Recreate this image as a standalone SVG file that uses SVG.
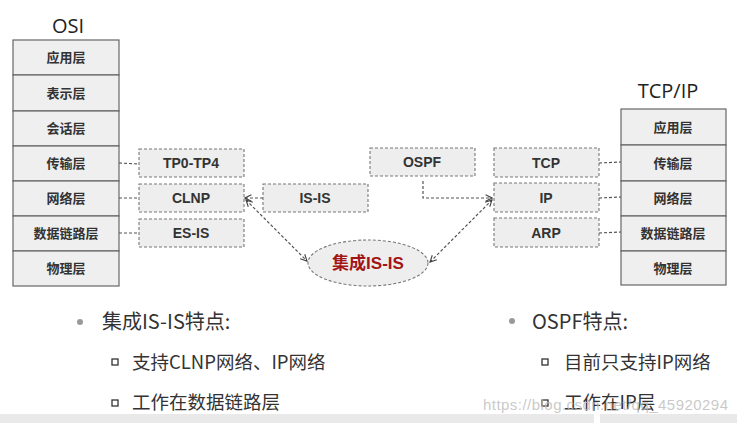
<svg xmlns="http://www.w3.org/2000/svg" width="737" height="423" viewBox="0 0 737 423">
<style>
.layer{fill:#efefef;stroke:#666;stroke-width:1.2}
.proto{fill:#eeeeee;stroke:#777;stroke-width:1.1;stroke-dasharray:3 2}
.lt{font-family:"Liberation Sans","Noto Sans CJK SC",sans-serif;font-weight:bold;font-size:13px;fill:#333;text-anchor:middle}
.pt{font-family:"Liberation Sans","Noto Sans CJK SC",sans-serif;font-weight:bold;font-size:14px;fill:#333;text-anchor:middle}
.title{font-family:"Open Sans","Noto Sans CJK SC",sans-serif;font-size:20px;fill:#222;text-anchor:middle}
.con{fill:none;stroke:#555;stroke-width:1.2;stroke-dasharray:3 2}
.body{font-family:"Noto Sans CJK SC",sans-serif;fill:#333}
</style>
<defs>
<marker id="arr" viewBox="0 0 10 10" refX="9" refY="5" markerWidth="8" markerHeight="8" orient="auto-start-reverse" markerUnits="userSpaceOnUse">
<path d="M1,1 L9,5 L1,9" fill="none" stroke="#444" stroke-width="1.4"/>
</marker>
</defs>
<rect width="737" height="423" fill="#fff"/>

<g id="osi">
<text class="title" x="68" y="33">OSI</text>
<rect class="layer" x="13" y="40" width="106" height="35"/>
<rect class="layer" x="13" y="75" width="106" height="36"/>
<rect class="layer" x="13" y="111" width="106" height="35"/>
<rect class="layer" x="13" y="146" width="106" height="35"/>
<rect class="layer" x="13" y="181" width="106" height="35"/>
<rect class="layer" x="13" y="216" width="106" height="35"/>
<rect class="layer" x="13" y="251" width="106" height="35"/>
<text class="lt" x="66" y="62">应用层</text>
<text class="lt" x="66" y="98">表示层</text>
<text class="lt" x="66" y="133">会话层</text>
<text class="lt" x="66" y="168">传输层</text>
<text class="lt" x="66" y="203">网络层</text>
<text class="lt" x="66" y="238">数据链路层</text>
<text class="lt" x="66" y="273">物理层</text>
</g>

<g id="tcpip">
<text class="title" x="668" y="98">TCP/IP</text>
<rect class="layer" x="621" y="109" width="105" height="36"/>
<rect class="layer" x="621" y="145" width="105" height="36"/>
<rect class="layer" x="621" y="181" width="105" height="35"/>
<rect class="layer" x="621" y="216" width="105" height="35"/>
<rect class="layer" x="621" y="251" width="105" height="34"/>
<text class="lt" x="673" y="132">应用层</text>
<text class="lt" x="673" y="168">传输层</text>
<text class="lt" x="673" y="203">网络层</text>
<text class="lt" x="673" y="238">数据链路层</text>
<text class="lt" x="673" y="273">物理层</text>
</g>

<g id="tp0-tp4"><rect class="proto" x="139" y="149" width="105" height="28"/><text class="pt" x="191" y="168">TP0-TP4</text></g>
<g id="clnp"><rect class="proto" x="139" y="184" width="105" height="28"/><text class="pt" x="191" y="203">CLNP</text></g>
<g id="es-is"><rect class="proto" x="139" y="219" width="105" height="28"/><text class="pt" x="191" y="238">ES-IS</text></g>
<g id="is-is"><rect class="proto" x="263" y="184" width="105" height="28"/><text class="pt" x="315" y="203">IS-IS</text></g>
<g id="ospf"><rect class="proto" x="370" y="148" width="105" height="28"/><text class="pt" x="422" y="167">OSPF</text></g>
<g id="tcp"><rect class="proto" x="494" y="148" width="105" height="29"/><text class="pt" x="546" y="168">TCP</text></g>
<g id="ip"><rect class="proto" x="494" y="183" width="105" height="29"/><text class="pt" x="546" y="203">IP</text></g>
<g id="arp"><rect class="proto" x="494" y="218" width="105" height="29"/><text class="pt" x="546" y="238">ARP</text></g>
<g id="integrated-is-is">
<ellipse cx="368" cy="263" rx="60" ry="23" fill="#eeeeee" stroke="#777" stroke-width="1.1" stroke-dasharray="3 2"/>
<text x="368" y="269" font-family="Liberation Sans,Noto Sans CJK SC,sans-serif" font-weight="bold" font-size="17" fill="#a31515" text-anchor="middle">集成IS-IS</text>
</g>

<g id="connectors">
<line class="con" x1="119" y1="163" x2="139" y2="164"/>
<line class="con" x1="119" y1="198" x2="139" y2="198"/>
<line class="con" x1="119" y1="233" x2="139" y2="233"/>
<line class="con" x1="599" y1="163" x2="621" y2="162"/>
<line class="con" x1="599" y1="198" x2="621" y2="197"/>
<line class="con" x1="599" y1="233" x2="621" y2="232"/>
<line class="con" x1="263" y1="198" x2="245" y2="198" marker-end="url(#arr)"/>
<line class="con" x1="246" y1="200" x2="307" y2="261" marker-start="url(#arr)" marker-end="url(#arr)"/>
<polyline class="con" points="423,181 423,198 492,198" marker-end="url(#arr)"/>
<line class="con" x1="430" y1="262" x2="492" y2="200" marker-start="url(#arr)" marker-end="url(#arr)"/>
</g>

<g id="notes">
<circle cx="80" cy="322" r="3" fill="#999"/>
<text class="body" x="102" y="329" font-size="20">集成IS-IS特点:</text>
<rect x="112" y="359" width="6" height="6" fill="none" stroke="#333" stroke-width="1.3"/>
<text class="body" x="132" y="369" font-size="18.5">支持CLNP网络、IP网络</text>
<rect x="112" y="400" width="6" height="6" fill="none" stroke="#333" stroke-width="1.3"/>
<text class="body" x="132" y="409" font-size="18.5">工作在数据链路层</text>
<circle cx="512" cy="321" r="3" fill="#999"/>
<text class="body" x="532" y="329" font-size="20">OSPF特点:</text>
<rect x="542" y="359" width="6" height="6" fill="none" stroke="#333" stroke-width="1.3"/>
<text class="body" x="564" y="369" font-size="18.5">目前只支持IP网络</text>
<rect x="542" y="400" width="6" height="6" fill="none" stroke="#333" stroke-width="1.3"/>
<text class="body" x="564" y="409" font-size="18.5">工作在IP层</text>
</g>

<text x="483" y="410" font-family="Liberation Sans,sans-serif" font-size="15" fill="#bbbbbb" fill-opacity="0.8" textLength="245">https://blog.csdn.net/qq_45920294</text>
<rect x="0" y="414" width="594" height="9" fill="#e9e9e9"/>
<rect x="600" y="414" width="137" height="9" fill="#e9e9e9"/>
</svg>
